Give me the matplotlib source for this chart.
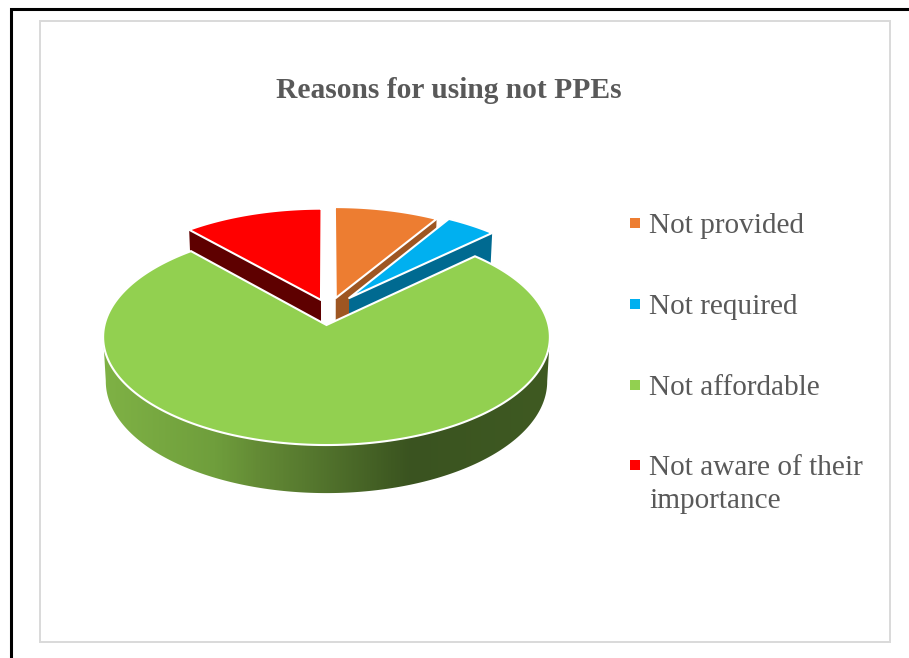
import numpy as np
import matplotlib
matplotlib.use('Agg')
import matplotlib.pyplot as plt
from matplotlib.colors import LinearSegmentedColormap
from matplotlib.patches import Polygon, Rectangle

title = 'Reasons for using not PPEs'
categories = ['Not provided', 'Not required', 'Not affordable', 'Not aware of their\nimportance']
values = [8.6, 4.2, 75.7, 11.5]
colors = ['#ED7D31', '#00B0F0', '#92D050', '#FF0000']
side_colors = ['#9E5622', '#006A91', '#3D5721', '#5E0000']
explode_u = [0.043, 0.105, 0.0, -0.0255]
explode_v = [0.26, 0.26, 0.0, 0.2406]
legend_y = [223, 304, 385, 465]

# projected pie: perspective on the flat disc
cx, cy = 326.5, 325
rx, ry = 222.0, 106.7
persp = 1 / 9
depth = 44
shrink = 0.988


def project(u, v, bottom=False):
    w = 1 + persp * v
    x = rx * u / w
    y = ry * v / w
    if bottom:
        return cx + x * shrink, cy - y * shrink + depth / w
    return cx + x, cy - y


def slice_points(a0, a1, du, dv, bottom=False):
    t = np.radians(np.linspace(a0, a1, 200))
    u = np.concatenate([[du], du + np.sin(t), [du]])
    v = np.concatenate([[dv], dv + np.cos(t), [dv]])
    return project(u, v, bottom)


plt.rcParams['font.family'] = ['Liberation Serif', 'DejaVu Serif']
fig = plt.figure(figsize=(9.09, 6.58), dpi=100)
ax = fig.add_axes([0, 0, 1, 1])

# page border and chart frame
ax.plot([11, 11, 909], [658, 9, 9], color='black', lw=2.2, solid_joinstyle='miter')
ax.add_patch(Rectangle((40, 21), 850, 621, fill=False, ec='#D9D9D9', lw=1.4))

ends = np.cumsum(values) / np.sum(values) * 360
starts = np.concatenate([[0], ends[:-1]])


def draw_cut_face(i):
    # right edge for front facing cuts, left edge for the red one
    a = starts[i] if i == 3 else ends[i]
    t = np.radians(a)
    u = np.array([explode_u[i], explode_u[i] + np.sin(t)])
    v = np.array([explode_v[i], explode_v[i] + np.cos(t)])
    xt, yt = project(u, v)
    xb, yb = project(u, v, bottom=True)
    pts = np.column_stack([np.r_[xt, xb[::-1]], np.r_[yt, yb[::-1]]])
    ax.add_patch(Polygon(pts, fc=side_colors[i], ec='none'))


def draw_top(i):
    x, y = slice_points(starts[i], ends[i], explode_u[i], explode_v[i])
    ax.add_patch(Polygon(np.column_stack([x, y]), fc=colors[i], ec='white', lw=1.5, joinstyle='round'))


# back slices first
for i in [0, 1, 3]:
    draw_cut_face(i)
    draw_top(i)

# green wall with its gradient, front half of the rim only so the sides drop straight
i = 2
t = np.radians(np.linspace(starts[i], ends[i], 300))
xt, yt = project(np.sin(t), np.cos(t))
xb, yb = project(np.sin(t), np.cos(t), bottom=True)
rt, lt = xt.argmax(), xt.argmin()
rb, lb = xb.argmax(), xb.argmin()
wall_x = np.r_[xt[rt:lt + 1], xb[rb:lb + 1][::-1]]
wall_y = np.r_[yt[rt:lt + 1], yb[rb:lb + 1][::-1]]
wall = Polygon(np.column_stack([wall_x, wall_y]), fc='none', ec='none')
ax.add_patch(wall)
grad = LinearSegmentedColormap.from_list('wall', [
    (0.0, '#7FB245'), (0.25, '#6F9E3C'), (0.35, '#638A35'), (0.47, '#55772E'),
    (0.645, '#3F5A22'), (0.69, '#3A5320'), (1.0, '#3F5A22')])
img = ax.imshow(np.linspace(0, 1, 446).reshape(1, -1), cmap=grad, aspect='auto',
                extent=[xt.min() - 1, xt.max() + 1, 500, 240], zorder=1.5)
img.set_clip_path(wall)
x, y = slice_points(starts[i], ends[i], explode_u[i], explode_v[i])
ax.add_patch(Polygon(np.column_stack([x, y]), fc=colors[i], ec='white', lw=1.5, zorder=2))

ax.text(448.5, 91, title, ha='center', va='center', fontsize=21.25, fontweight='bold', color='#595959')

for name, col, ly in zip(categories, colors, legend_y):
    ax.add_patch(Rectangle((630, ly - 5), 10, 10, fc=col, ec='none'))
    for k, line in enumerate(name.split('\n')):
        ax.text(649, ly + 10 + 33 * k, line, ha='left', va='baseline', fontsize=21.1, color='#595959')

ax.set_xlim(0, 909)
ax.set_ylim(658, 0)
ax.axis('off')
fig.savefig('out.png', dpi=100)
